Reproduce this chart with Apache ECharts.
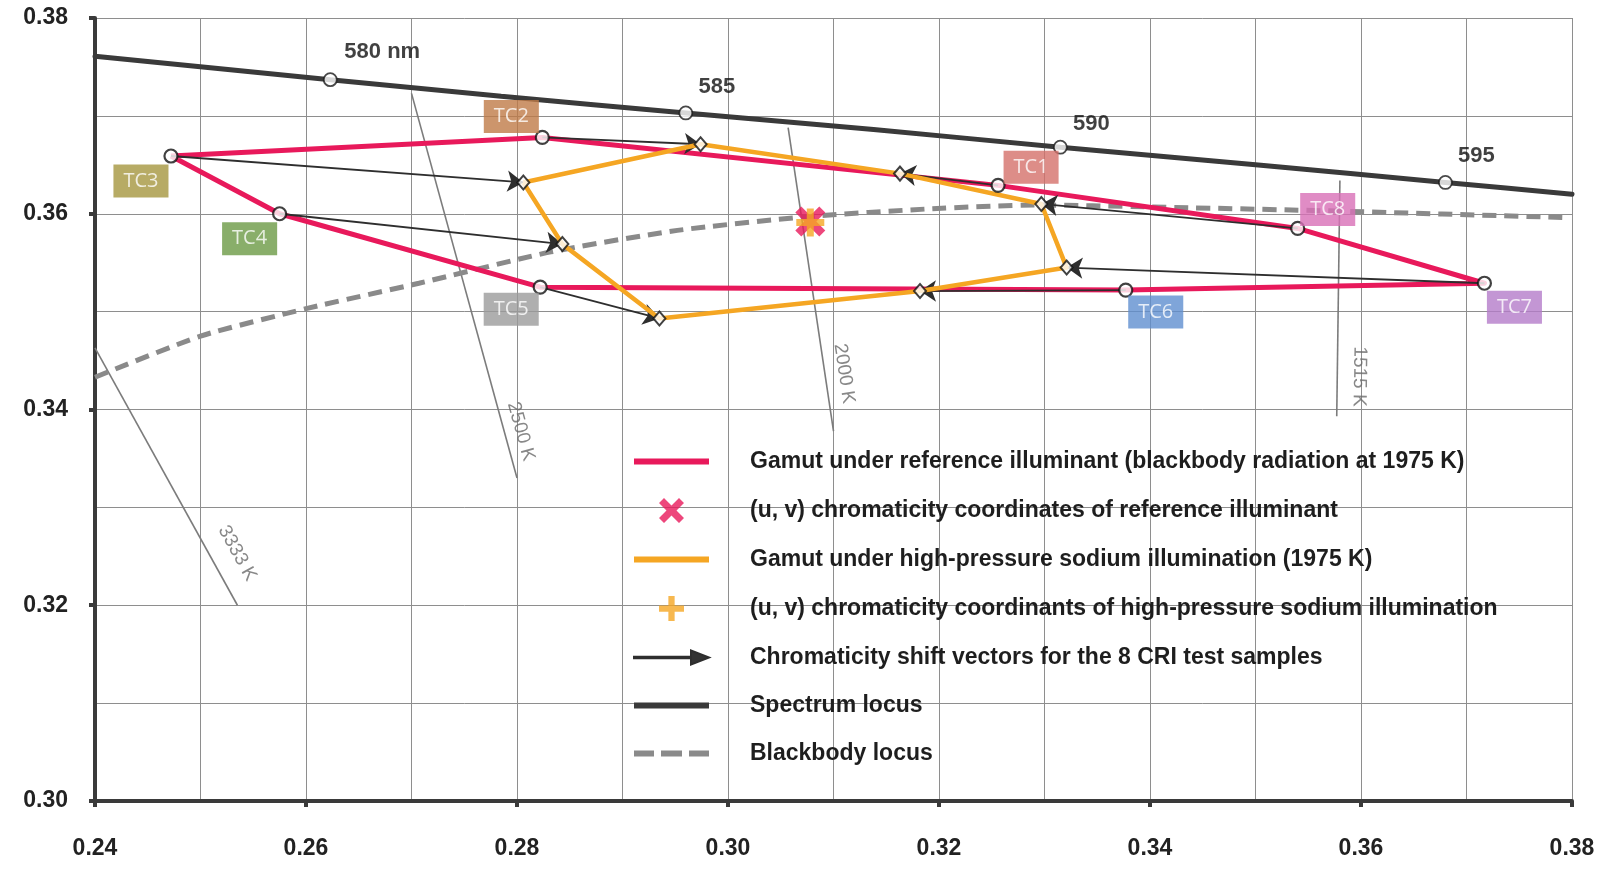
<!DOCTYPE html>
<html>
<head>
<meta charset="utf-8">
<script src="https://cdn.jsdelivr.net/npm/echarts@6/dist/echarts.min.js"></script>
<style>
html,body{margin:0;padding:0;background:#ffffff;}
#main{width:1603px;height:878px;}
</style>
</head>
<body>
<div id="main"></div>
<script>
// ---------------- DATA ----------------
const xTickLabels = ['0.24','0.26','0.28','0.30','0.32','0.34','0.36','0.38'];
const yTickLabels = ['0.30','0.32','0.34','0.36','0.38'];

const tcNames = ['TC1','TC2','TC3','TC4','TC5','TC6','TC7','TC8'];
// reference illuminant (blackbody 1975 K) chromaticities
const refU = [0.3256, 0.2824, 0.2472, 0.2575, 0.2822, 0.3377, 0.3717, 0.3540];
const refV = [0.3629, 0.3678, 0.3659, 0.3600, 0.3525, 0.3522, 0.3529, 0.3585];
// high-pressure sodium chromaticities
const testU = [0.3163, 0.2974, 0.2806, 0.2843, 0.2935, 0.3182, 0.3321, 0.3297];
const testV = [0.3641, 0.3671, 0.3632, 0.3569, 0.3493, 0.3521, 0.3545, 0.3610];
// polygon order (TC3, TC2, TC1, TC8, TC7, TC6, TC5, TC4, TC3)
const gamutOrder = [2, 1, 0, 7, 6, 5, 4, 3, 2];

const refIlluminant = [0.3078, 0.3592];
const testIlluminant = [0.3078, 0.3591];

const spectrumU = [0.2400, 0.2623, 0.2785, 0.2960, 0.3138, 0.3315, 0.3500, 0.3680, 0.3800];
const spectrumV = [0.3761, 0.3737, 0.3720, 0.3703, 0.3686, 0.3668, 0.3650, 0.3632, 0.3620];
const wavelengthNames = ['580 nm', '585', '590', '595'];
const wavelengthU = [0.2623, 0.2960, 0.3315, 0.3680];
const wavelengthV = [0.3737, 0.3703, 0.3668, 0.3632];

const blackbodyU = [0.2400, 0.2500, 0.2600, 0.2707, 0.2832, 0.2952, 0.3075, 0.3191, 0.3292, 0.3398, 0.3568, 0.3796];
const blackbodyV = [0.3433, 0.3475, 0.3503, 0.3529, 0.3561, 0.3583, 0.3597, 0.3605, 0.3609, 0.3607, 0.3603, 0.3596];

const isoNames = ['3333 K', '2500 K', '2000 K', '1515 K'];
const isoStartU = [0.2400, 0.2700, 0.3057, 0.3580];
const isoStartV = [0.3463, 0.3723, 0.3688, 0.3634];
const isoEndU   = [0.2535, 0.2800, 0.3100, 0.3577];
const isoEndV   = [0.3200, 0.3330, 0.3378, 0.3393];

const legendNames = [
  'Gamut under reference illuminant (blackbody radiation at 1975 K)',
  '(u, v) chromaticity coordinates of reference illuminant',
  'Gamut under high-pressure sodium illumination (1975 K)',
  '(u, v) chromaticity coordinants of high-pressure sodium illumination',
  'Chromaticity shift vectors for the 8 CRI test samples',
  'Spectrum locus',
  'Blackbody locus'
];

// ---------------- STYLE ----------------
const FONT = '"Liberation Sans", Arial, sans-serif';
const RED = '#e8195b';
const ORANGE = '#f5a623';
const DARK = '#3a3a3a';
const GRID = '#8e8e8e';
const DASHGRAY = '#8a8a8a';
const tcColors = ['#d4706a', '#bf7b47', '#a5963e', '#6b9a45', '#9b9b9b', '#5f8fd0', '#b47cc9', '#d86fb6'];
const tcLabelOffset = [[33,-18],[-31,-21],[-30,25],[-30,25],[-29,22],[30,22],[30,24],[30,-19]];
const wlLabelOffset = [[52,-28],[31,-26],[31,-23],[31,-26]];
const isoLabelT = [0.845, 0.89, 0.82, 0.83];
const isoLabelGap = [25, 16, 19, 22];

const X_PATH = 'path://M0,4 L4,0 L10,6 L16,0 L20,4 L14,10 L20,16 L16,20 L10,14 L4,20 L0,16 L6,10 Z';
const PLUS_PATH = 'path://M7.5,0 L12.5,0 L12.5,7.5 L20,7.5 L20,12.5 L12.5,12.5 L12.5,20 L7.5,20 L7.5,12.5 L0,12.5 L0,7.5 L7.5,7.5 Z';
const ARROW_PATH = 'path://M0,6.2 L57,6.2 L57,0 L75,7 L57,14 L57,7.8 L0,7.8 Z';
const BAR_PATH = 'path://M0,0 L75,0 L75,6 L0,6 Z';
const DASH_PATH = 'path://M0,0 L20,0 L20,6 L0,6 Z M27,0 L48,0 L48,6 L27,6 Z M55,0 L75,0 L75,6 L55,6 Z';

// ---------------- BUILD ----------------
const pair = (us, vs) => us.map((u, i) => [u, vs[i]]);
const refPts = pair(refU, refV);
const testPts = pair(testU, testV);
const isoStart = pair(isoStartU, isoStartV);
const isoEnd = pair(isoEndU, isoEndV);

const series = [];

isoNames.forEach((n, i) => {
  series.push({
    type: 'line', name: 'iso-' + n, data: [isoStart[i], isoEnd[i]],
    symbol: 'none', silent: true, z: 1,
    lineStyle: { color: '#7c7c7c', width: 1.6 }
  });
});
series.push({
  id: 'isoLabels', type: 'scatter', data: [], symbolSize: 1, silent: true, z: 1,
  itemStyle: { color: 'rgba(0,0,0,0)' },
  label: { show: true, position: 'inside', color: '#6a6a6a', fontSize: 19, fontFamily: FONT,
           formatter: p => p.name }
});

series.push({
  type: 'line', name: legendNames[6], data: pair(blackbodyU, blackbodyV),
  symbol: 'none', smooth: 0.2, z: 2,
  lineStyle: { color: DASHGRAY, width: 5, type: [14, 8] }
});
series.push({
  type: 'line', name: legendNames[5], data: pair(spectrumU, spectrumV),
  symbol: 'none', smooth: 0.2, z: 2,
  lineStyle: { color: DARK, width: 5, cap: 'round' }
});
series.push({
  type: 'line', name: legendNames[0], data: gamutOrder.map(i => refPts[i]),
  symbol: 'none', z: 3,
  lineStyle: { color: RED, width: 5, join: 'round' }
});
series.push({
  type: 'lines', name: legendNames[4], coordinateSystem: 'cartesian2d', z: 4,
  data: refPts.map((p, i) => ({ coords: [p, testPts[i]] })),
  symbol: ['none', 'arrow'], symbolSize: 16,
  lineStyle: { color: '#2e2e2e', width: 1.8, opacity: 1, curveness: 0 }
});
series.push({
  type: 'line', name: legendNames[2], data: gamutOrder.map(i => testPts[i]),
  symbol: 'none', z: 5,
  lineStyle: { color: ORANGE, width: 4.5, join: 'round' }
});
series.push({
  type: 'scatter', name: 'test-markers', data: testPts, z: 6,
  symbol: 'diamond', symbolSize: [12, 14],
  itemStyle: { color: '#ffffff', borderColor: '#111111', borderWidth: 2 }
});
series.push({
  type: 'scatter', name: 'wavelengths', z: 6,
  data: wavelengthNames.map((n, i) => ({
    name: n, value: [wavelengthU[i], wavelengthV[i]],
    label: { offset: wlLabelOffset[i] }
  })),
  symbol: 'circle', symbolSize: 13,
  itemStyle: { color: '#ffffff', borderColor: '#1a1a1a', borderWidth: 1.8 },
  label: { show: true, position: 'inside', formatter: p => p.name,
           color: '#111', fontSize: 22, fontWeight: 'bold', fontFamily: FONT }
});
series.push({
  type: 'scatter', name: legendNames[1], data: [refIlluminant], z: 7,
  symbol: X_PATH, symbolSize: 30, itemStyle: { color: RED }
});
series.push({
  type: 'scatter', name: legendNames[3], data: [testIlluminant], z: 8,
  symbol: PLUS_PATH, symbolSize: 28, itemStyle: { color: ORANGE }
});
series.push({
  type: 'scatter', name: 'tc-labels', z: 10,
  data: tcNames.map((n, i) => ({
    name: n, value: refPts[i],
    label: { offset: tcLabelOffset[i], backgroundColor: tcColors[i] }
  })),
  symbol: 'circle', symbolSize: 13,
  itemStyle: { color: '#ffffff', borderColor: '#111111', borderWidth: 2.2 },
  label: { show: true, position: 'inside', formatter: p => p.name,
           color: '#ffffff', fontSize: 20, fontFamily: '"Open Sans", sans-serif',
           padding: [6, 10, 6, 10], lineHeight: 21 }
});

const axisCommon = {
  type: 'value', interval: 0.02,
  axisLine: { show: true, onZero: false, lineStyle: { color: DARK, width: 4 } },
  axisTick: { show: true, length: 6, lineStyle: { color: DARK, width: 4 } },
  splitLine: { show: true, lineStyle: { color: GRID, width: 1 } },
  minorTick: { show: false, splitNumber: 2 },
  minorSplitLine: { show: true, lineStyle: { color: GRID, width: 1 } }
};

const option = {
  backgroundColor: '#ffffff',
  animation: false,
  grid: { left: 95, right: 31, top: 18, bottom: 77, containLabel: false },
  xAxis: Object.assign({}, axisCommon, {
    min: 0.24, max: 0.38,
    axisLabel: { margin: 36, fontSize: 23, fontWeight: 'bold', color: '#222', fontFamily: FONT,
      formatter: v => xTickLabels.find(t => Math.abs(parseFloat(t) - v) < 1e-6) || '' }
  }),
  yAxis: Object.assign({}, axisCommon, {
    min: 0.30, max: 0.38,
    axisLabel: { margin: 27, fontSize: 23, fontWeight: 'bold', color: '#222', fontFamily: FONT,
      formatter: v => yTickLabels.find(t => Math.abs(parseFloat(t) - v) < 1e-6) || '' }
  }),
  legend: {
    orient: 'vertical', left: 628, top: 445,
    itemWidth: 75, itemHeight: 25, itemGap: 25,
    selectedMode: false,
    textStyle: { fontSize: 23, fontWeight: 'bold', color: '#1e1e1e', fontFamily: FONT, padding: [0, 0, 0, 36] },
    data: [
      { name: legendNames[0], icon: BAR_PATH, itemStyle: { color: RED } },
      { name: legendNames[1] },
      { name: legendNames[2], icon: BAR_PATH, itemStyle: { color: ORANGE } },
      { name: legendNames[3] },
      { name: legendNames[4], icon: ARROW_PATH, itemStyle: { color: '#333333' } },
      { name: legendNames[5], icon: BAR_PATH, itemStyle: { color: DARK } },
      { name: legendNames[6], icon: DASH_PATH, itemStyle: { color: DASHGRAY } }
    ]
  },
  series: series
};

const chart = echarts.init(document.getElementById('main'));
chart.setOption(option);

// place isotherm labels along their lines
const isoLabelData = isoNames.map((n, i) => {
  const p0 = chart.convertToPixel({ gridIndex: 0 }, isoStart[i]);
  const p1 = chart.convertToPixel({ gridIndex: 0 }, isoEnd[i]);
  const dx = p1[0] - p0[0], dy = p1[1] - p0[1];
  const len = Math.hypot(dx, dy);
  const t = isoLabelT[i], g = isoLabelGap[i];
  const px = p0[0] + dx * t + (dy / len) * g;
  const py = p0[1] + dy * t - (dx / len) * g;
  const val = chart.convertFromPixel({ gridIndex: 0 }, [px, py]);
  const ang = -Math.atan2(dy, dx) * 180 / Math.PI;
  return { name: n, value: val, label: { rotate: ang } };
});
chart.setOption({ series: [{ id: 'isoLabels', data: isoLabelData }] });
</script>
</body>
</html>
